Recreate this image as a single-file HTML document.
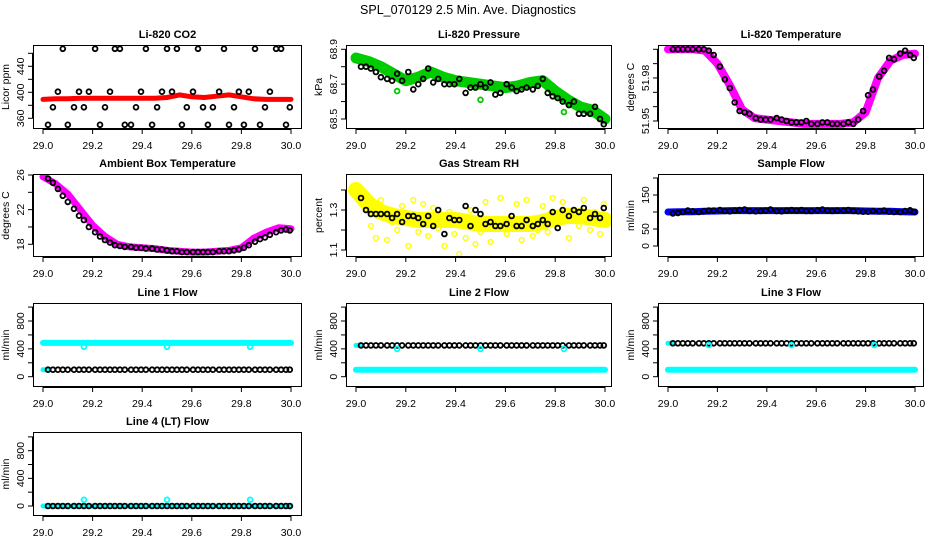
<!DOCTYPE html>
<html><head><meta charset="utf-8"><style>
html,body{margin:0;padding:0;background:#fff;}
svg{display:block;font-family:"Liberation Sans",Arial,sans-serif;}
</style></head><body>
<svg id="c" width="936" height="540" viewBox="0 0 936 540">
<text x="468" y="14" text-anchor="middle" font-size="12.5">SPL_070129  2.5 Min. Ave. Diagnostics</text>
</svg>
<script>
// ---------- data ----------
const xTicks = [29.0, 29.2, 29.4, 29.6, 29.8, 30.0];
const xTickLabels = ["29.0","29.2","29.4","29.6","29.8","30.0"];
const bandTimes = [29.0,29.05,29.1,29.15,29.2,29.25,29.3,29.35,29.4,29.45,29.5,29.55,29.6,29.65,29.7,29.75,29.8,29.85,29.9,29.95,30.0];
const ptTimes = [29.02,29.04,29.06,29.08,29.10,29.125,29.145,29.165,29.185,29.21,29.23,29.25,29.27,29.29,29.31,29.33,29.355,29.375,29.395,29.415,29.44,29.46,29.48,29.50,29.52,29.54,29.56,29.58,29.605,29.625,29.645,29.665,29.685,29.71,29.73,29.75,29.77,29.79,29.81,29.83,29.855,29.875,29.895,29.915,29.94,29.96,29.98,29.995];
const outlierTimes = [29.165, 29.5, 29.835];

const co2Band = [389,390,390,391,391,391,391,391,391,391,392,396,393,392,394,396,393,390,389,389,389];
const co2Pts = [350,377,401,467,350,377,401,377,401,467,350,377,401,467,467,350,350,377,401,467,350,377,401,467,401,467,350,377,401,467,377,350,377,401,467,350,377,401,350,401,467,350,377,401,467,467,350,377];
const presBand = [68.85,68.83,68.80,68.76,68.72,68.74,68.77,68.74,68.72,68.71,68.70,68.69,68.68,68.69,68.71,68.72,68.66,68.61,68.57,68.55,68.50];
const presPts = [68.80,68.80,68.79,68.77,68.74,68.73,68.72,68.76,68.72,68.77,68.67,68.70,68.73,68.79,68.71,68.73,68.70,68.70,68.70,68.73,68.65,68.68,68.68,68.70,68.68,68.71,68.64,68.65,68.70,68.68,68.66,68.67,68.68,68.67,68.69,68.73,68.65,68.63,68.62,68.60,68.58,68.60,68.53,68.53,68.53,68.57,68.50,68.47];
const presOut = [68.66, 68.61, 68.54];
const ltBand = [52.000,52.000,52.000,51.999,51.990,51.975,51.958,51.952,51.951,51.950,51.949,51.948,51.948,51.948,51.948,51.949,51.956,51.980,51.992,51.996,51.997];
const ltPts = [52.000,52.000,52.000,52.000,52.000,52.000,52.000,51.999,51.996,51.988,51.979,51.973,51.963,51.957,51.956,51.955,51.952,51.951,51.951,51.951,51.952,51.951,51.950,51.949,51.949,51.949,51.950,51.948,51.948,51.949,51.949,51.948,51.948,51.948,51.949,51.948,51.951,51.957,51.968,51.972,51.981,51.985,51.994,51.993,51.997,51.999,51.996,51.994];
const ambBand = [25.8,25.0,23.8,22.0,20.2,18.9,18.0,17.7,17.6,17.5,17.3,17.2,17.1,17.1,17.2,17.3,17.6,18.7,19.4,19.9,19.8];
const ambPts = [25.6,25.1,24.4,23.6,22.9,22.1,21.3,20.8,20.0,19.4,18.9,18.5,18.2,17.9,17.8,17.7,17.7,17.6,17.6,17.5,17.5,17.4,17.4,17.3,17.2,17.2,17.1,17.1,17.1,17.1,17.1,17.1,17.1,17.2,17.2,17.2,17.3,17.4,17.6,17.9,18.3,18.6,18.8,19.1,19.4,19.6,19.7,19.6];
const rhBand = [1.40,1.33,1.29,1.27,1.26,1.25,1.25,1.25,1.25,1.24,1.23,1.23,1.23,1.23,1.23,1.24,1.26,1.27,1.27,1.26,1.25];
const rhPts = [1.36,1.30,1.28,1.28,1.28,1.28,1.26,1.28,1.24,1.27,1.27,1.26,1.23,1.27,1.22,1.30,1.18,1.26,1.25,1.25,1.32,1.22,1.30,1.28,1.23,1.24,1.22,1.22,1.23,1.27,1.22,1.22,1.25,1.22,1.23,1.25,1.23,1.29,1.21,1.30,1.27,1.30,1.29,1.31,1.26,1.28,1.26,1.31];
const rhYellow = [1.34,1.38,1.22,1.16,1.35,1.15,1.24,1.20,1.32,1.12,1.35,1.19,1.33,1.17,1.31,1.21,1.12,1.29,1.18,1.08,1.16,1.30,1.13,1.19,1.34,1.14,1.21,1.36,1.18,1.24,1.33,1.15,1.35,1.17,1.20,1.32,1.19,1.36,1.23,1.34,1.16,1.30,1.22,1.35,1.20,1.29,1.18,1.33];
const sfBand = [100,101,101,102,103,104,104,104,104,104,104,104,104,104,104,104,103,102,102,101,100];
const sfPts = [96,97,100,104,102,100,102,104,104,106,103,102,104,106,107,103,102,103,104,107,103,102,104,106,104,106,103,103,105,107,104,103,104,104,106,103,102,101,101,103,102,104,101,100,100,103,105,101];
const l1Cyan = 485, l1Black = 100, l1Out = 430;
const l2Cyan = 100, l2Black = 450, l2Out = 400;
const l3Cyan = 100, l3Black = 480, l3Out = 455;
const l4Cyan = 0, l4Black = 0, l4Out = 90;

// ---------- helpers ----------
const NS = "http://www.w3.org/2000/svg";
const svg = document.getElementById("c");
function mk(tag, attrs, parent){
  const e = document.createElementNS(NS, tag);
  for (const k in attrs) e.setAttribute(k, attrs[k]);
  (parent||svg).appendChild(e);
  return e;
}
const cols = [{l:33,r:302,x0:43,x1:291},{l:346,r:612,x0:356,x1:605},{l:658,r:924,x0:668,x1:915}];
const rows = [{t:45,b:129},{t:174,b:257},{t:303,b:387},{t:432,b:516}];

function panel(cfg){
  const c = cols[cfg.col], r = rows[cfg.row];
  const g = mk("g", {});
  
  
  const xs = v => c.x0 + (v-29)*(c.x1-c.x0);
  const ys = v => cfg.ya[1] + (v-cfg.ya[0])*(cfg.yb[1]-cfg.ya[1])/(cfg.yb[0]-cfg.ya[0]);
  const clipId = "clip"+cfg.name;
  const cp = mk("clipPath", {id:clipId}, g);
  mk("rect", {x:c.l, y:r.t, width:c.r-c.l, height:r.b-r.t}, cp);
  const plot = mk("g", {"clip-path":"url(#"+clipId+")"}, g);
  (cfg.bands||[]).forEach(bd=>{
    const d = bd.x.map((t,i)=>(i?"L":"M")+xs(t).toFixed(1)+","+ys(bd.y[i]).toFixed(1)).join("");
    const p = mk("path", {d:d, fill:"none", stroke:bd.color, "stroke-width":bd.w, "stroke-linejoin":"round", "stroke-linecap":"round"}, plot);
    
    
  });
  (cfg.pts||[]).forEach(ps=>{
    ps.x.forEach((t,i)=>{
      const ci = mk("circle", {cx:xs(t).toFixed(1), cy:ys(ps.y[i]).toFixed(1), r:2.4, fill:"none", stroke:ps.color, "stroke-width":ps.sw||1.8}, plot);
      
      
    });
  });
  const bx = mk("rect", {x:c.l+0.5, y:r.t+0.5, width:c.r-c.l-1, height:r.b-r.t-1, fill:"none", stroke:"#000", "stroke-width":1}, g);
  
  
  const xa = mk("line", {x1:xs(29), x2:xs(30), y1:r.b+0.5, y2:r.b+0.5, stroke:"#000"}, g);
  
  
  xTicks.forEach((t,i)=>{
    mk("line", {x1:xs(t), x2:xs(t), y1:r.b, y2:r.b+5, stroke:"#000"}, g);
    const tx = mk("text", {x:xs(t), y:r.b+20, "text-anchor":"middle", "font-size":10.5}, g);
    tx.textContent = xTickLabels[i];
    
    
  });
  const yt = cfg.yticks;
  mk("line", {x1:c.l-0.5, x2:c.l-0.5, y1:ys(yt[0]), y2:ys(yt[yt.length-1]), stroke:"#000"}, g);
  yt.forEach(v=>{
    mk("line", {x1:c.l-5, x2:c.l, y1:ys(v), y2:ys(v), stroke:"#000"}, g);
  });
  cfg.ylabels.forEach(v=>{
    const y = ys(v), x = c.l-9;
    const tx = mk("text", {x:x, y:y, "text-anchor":"middle", "font-size":10.5, transform:"rotate(-90 "+x+" "+y+")"}, g);
    tx.textContent = cfg.fmt ? v.toFixed(cfg.fmt) : String(v);
    
    
  });
  const ylx = c.l-24, yly = (r.t+r.b)/2;
  const yl = mk("text", {x:ylx, y:yly, "text-anchor":"middle", "font-size":10.5, transform:"rotate(-90 "+ylx+" "+yly+")"}, g);
  yl.textContent = cfg.ylab;
  
  
  const ti = mk("text", {x:(c.l+c.r)/2, y:r.t-7, "text-anchor":"middle", "font-size":11, "font-weight":"bold"}, g);
  ti.textContent = cfg.title;
  
  
}
const flat = (n,v)=>Array(n).fill(v);
const flowTicks = [0,200,400,600,800,1000];

panel({name:"co2-panel", col:0,row:0,title:"Li-820 CO2",ylab:"Licor ppm",ya:[360,118.3],yb:[460,53.3],
  yticks:[360,380,400,420,440,460],ylabels:[360,400,440],
  bands:[{x:bandTimes,y:co2Band,color:"#f00",w:5,label:"co2-band"}],
  pts:[{x:ptTimes,y:co2Pts,color:"#000",label:"co2-point"}]});
panel({name:"pressure-panel", col:1,row:0,title:"Li-820 Pressure",ylab:"kPa",ya:[68.5,119],yb:[68.9,49.3],fmt:1,
  yticks:[68.5,68.6,68.7,68.8,68.9],ylabels:[68.5,68.7,68.9],
  bands:[{x:bandTimes,y:presBand,color:"#00cc00",w:11,label:"pressure-band"}],
  pts:[{x:ptTimes,y:presPts,color:"#000",label:"pressure-point"},{x:outlierTimes,y:presOut,color:"#00cc00",label:"pressure-outlier"}]});
panel({name:"li820-temp-panel", col:2,row:0,title:"Li-820 Temperature",ylab:"degrees C",ya:[51.95,121],yb:[52.00,49.3],fmt:2,
  yticks:[51.95,51.96,51.97,51.98,51.99,52.00],ylabels:[51.95,51.98],
  bands:[{x:bandTimes,y:ltBand,color:"#f0f",w:8,label:"li820-temp-band"}],
  pts:[{x:ptTimes,y:ltPts,color:"#000",label:"li820-temp-point"}]});
panel({name:"ambient-temp-panel", col:0,row:1,title:"Ambient Box Temperature",ylab:"degrees C",ya:[18,244.3],yb:[26,175],
  yticks:[18,20,22,24,26],ylabels:[18,22,26],
  bands:[{x:bandTimes,y:ambBand,color:"#f0f",w:7,label:"ambient-temp-band"}],
  pts:[{x:ptTimes,y:ambPts,color:"#000",label:"ambient-temp-point"}]});
panel({name:"rh-panel", col:1,row:1,title:"Gas Stream RH",ylab:"percent",ya:[1.1,250],yb:[1.4,190],fmt:1,
  yticks:[1.1,1.2,1.3,1.4],ylabels:[1.1,1.3],
  bands:[{x:bandTimes,y:rhBand,color:"#ffff00",w:16,label:"rh-band"}],
  pts:[{x:ptTimes,y:rhYellow,color:"#ffff00",sw:1.4,label:"rh-yellow-point"},{x:ptTimes,y:rhPts,color:"#000",label:"rh-point"}]});
panel({name:"sample-flow-panel", col:2,row:1,title:"Sample Flow",ylab:"ml/min",ya:[0,246],yb:[150,195],
  yticks:[0,50,100,150,200],ylabels:[0,50,150],
  bands:[{x:bandTimes,y:sfBand,color:"#0000ff",w:7,label:"sample-flow-band"}],
  pts:[{x:ptTimes,y:sfPts,color:"#000",label:"sample-flow-point"}]});
panel({name:"line1-flow-panel", col:0,row:2,title:"Line 1 Flow",ylab:"ml/min",ya:[0,376.7],yb:[800,321],
  yticks:flowTicks,ylabels:[0,400,800],
  bands:[{x:bandTimes,y:flat(21,l1Cyan),color:"#00ffff",w:6,label:"line1-cyan-band"},{x:[29.0,29.02],y:[l1Black,l1Black],color:"#00ffff",w:5,label:"line1-cyan-low"}],
  pts:[{x:ptTimes,y:flat(48,l1Black),color:"#000",label:"line1-point"},{x:outlierTimes,y:flat(3,l1Out),color:"#00ffff",label:"line1-outlier"}]});
panel({name:"line2-flow-panel", col:1,row:2,title:"Line 2 Flow",ylab:"ml/min",ya:[0,376.7],yb:[800,321],
  yticks:flowTicks,ylabels:[0,400,800],
  bands:[{x:bandTimes,y:flat(21,l2Cyan),color:"#00ffff",w:6,label:"line2-cyan-band"},{x:[29.0,29.02],y:[l2Black,l2Black],color:"#00ffff",w:5,label:"line2-cyan-high"}],
  pts:[{x:ptTimes,y:flat(48,l2Black),color:"#000",label:"line2-point"},{x:outlierTimes,y:flat(3,l2Out),color:"#00ffff",label:"line2-outlier"}]});
panel({name:"line3-flow-panel", col:2,row:2,title:"Line 3 Flow",ylab:"ml/min",ya:[0,376.7],yb:[800,321],
  yticks:flowTicks,ylabels:[0,400,800],
  bands:[{x:bandTimes,y:flat(21,l3Cyan),color:"#00ffff",w:6,label:"line3-cyan-band"},{x:[29.0,29.02],y:[l3Black,l3Black],color:"#00ffff",w:5,label:"line3-cyan-high"}],
  pts:[{x:ptTimes,y:flat(48,l3Black),color:"#000",label:"line3-point"},{x:outlierTimes,y:flat(3,l3Out),color:"#00ffff",label:"line3-outlier"}]});
panel({name:"line4-flow-panel", col:0,row:3,title:"Line 4 (LT) Flow",ylab:"ml/min",ya:[0,506],yb:[800,450.7],
  yticks:flowTicks,ylabels:[0,400,800],
  bands:[{x:bandTimes,y:flat(21,l4Cyan),color:"#00ffff",w:5,label:"line4-cyan-band"}],
  pts:[{x:ptTimes,y:flat(48,l4Black),color:"#000",label:"line4-point"},{x:outlierTimes,y:flat(3,l4Out),color:"#00ffff",label:"line4-outlier"}]});
</script>
</body></html>
